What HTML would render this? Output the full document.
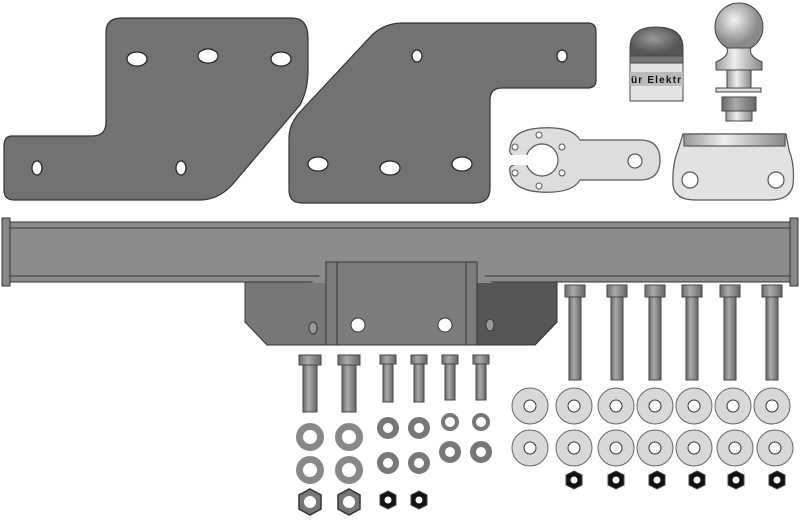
<!DOCTYPE html>
<html><head><style>html,body{margin:0;padding:0;background:#fff}svg{display:block}</style></head><body>
<svg width="800" height="522" viewBox="0 0 800 522" xmlns="http://www.w3.org/2000/svg">
<defs>
<linearGradient id="sh" x1="0" x2="1"><stop offset="0" stop-color="#6a6a6a"/><stop offset=".4" stop-color="#aaa"/><stop offset="1" stop-color="#666"/></linearGradient>
<linearGradient id="st" x1="0" x2="1"><stop offset="0" stop-color="#999"/><stop offset=".4" stop-color="#eee"/><stop offset="1" stop-color="#888"/></linearGradient>
<radialGradient id="ball" cx=".4" cy=".35"><stop offset="0" stop-color="#f4f4f4"/><stop offset="1" stop-color="#8a8a8a"/></radialGradient>
<radialGradient id="dome" cx=".45" cy=".4"><stop offset="0" stop-color="#999"/><stop offset="1" stop-color="#555"/></radialGradient>
</defs>
<g stroke="#333" stroke-width="1.2">
<path d="M12 136 H92 Q106 136 106 122 V32 Q106 18 122 18 H292 Q308 18 308 38 V70 Q308 90 300 105 L232 185 Q218 200 200 200 H14 Q4 200 4 190 V146 Q4 136 12 136 Z" fill="#727272"/>
<path d="M300 112 L372 35 Q385 23 402 23 H588 Q596 23 596 32 V80 Q596 88 588 88 H502 Q490 88 490 100 V188 Q490 203 475 203 H302 Q289 203 289 190 V138 Q289 124 300 112 Z" fill="#727272"/>
</g>
<g fill="#fff" stroke="#222" stroke-width="1.2">
<ellipse cx="137" cy="59" rx="10" ry="7"/><ellipse cx="208" cy="56" rx="10" ry="7"/><ellipse cx="281" cy="59" rx="10" ry="7"/>
<ellipse cx="37" cy="168" rx="5" ry="7"/><ellipse cx="181" cy="168" rx="5" ry="7"/>
<ellipse cx="417" cy="56" rx="5" ry="6"/><ellipse cx="562" cy="56" rx="5" ry="6"/>
<ellipse cx="318" cy="164" rx="10" ry="7"/><ellipse cx="390" cy="168" rx="10" ry="7"/><ellipse cx="462" cy="164" rx="10" ry="7"/>
</g>
<g stroke="#555" stroke-width="1.2">
<path d="M540 128 Q572 126 580 140 H640 Q660 140 660 160 Q660 180 640 180 H580 Q572 194 540 192 Q512 190 510 172 Q508 164 520 164 L530 164 Q525 160 525 160 L520 158 Q508 156 510 148 Q512 130 540 128 Z" fill="#ddd"/>
<circle cx="542" cy="160" r="16" fill="#fff"/>
<rect x="505" y="155" width="30" height="10" fill="#fff" stroke="none"/>
<circle cx="635" cy="161" r="7" fill="#fff"/>
<g fill="#fff" stroke-width="1"><circle cx="539" cy="135" r="3"/><circle cx="539" cy="186" r="3"/><circle cx="515" cy="147" r="3"/><circle cx="515" cy="173" r="3"/><circle cx="562" cy="147" r="3"/><circle cx="562" cy="173" r="3"/></g>
<path d="M683 134 H786 L789 150 Q795 165 793 185 Q790 200 770 200 H695 Q675 200 673 185 Q672 165 678 150 Z" fill="#e2e2e2"/>
<rect x="684" y="134" width="101" height="12" fill="url(#st)"/>
<circle cx="690" cy="180" r="8" fill="#fff"/><circle cx="776" cy="180" r="8" fill="#fff"/>
</g>
<g stroke="#444" stroke-width="1">
<path d="M630 56 V48 Q630 27 656 27 Q683 27 683 48 V56 Z" fill="url(#dome)"/>
<rect x="630" y="56" width="53" height="45" fill="#e4e4e4"/>
<rect x="630" y="56" width="53" height="7" fill="#777"/>
<rect x="630" y="72" width="53" height="14" fill="#bbb" stroke="none"/>
</g>
<text x="656" y="83" font-family="Liberation Sans, sans-serif" font-weight="bold" font-size="10" text-anchor="middle" fill="#111" textLength="50">ür Elektr</text>
<g stroke="#444" stroke-width="1">
<circle cx="739" cy="27" r="24" fill="url(#ball)"/>
<path d="M727 48 Q730 56 716 62 V70 H762 V62 Q748 56 751 48 Z" fill="url(#st)"/>
<rect x="727" y="70" width="24" height="18" fill="url(#st)"/>
<rect x="716" y="88" width="45" height="4" fill="#ddd"/>
<rect x="722" y="97" width="34" height="14" fill="url(#sh)"/>
<rect x="726" y="111" width="26" height="10" fill="url(#st)"/>
</g>
<g stroke="#333" stroke-width="1">
<path d="M245 282 H557 V322 L535 345 H267 L245 322 Z" fill="#777"/>
<path d="M477 282 H557 V322 L535 345 H477 Z" fill="#555"/>
<rect x="7" y="222" width="786" height="60" fill="#8c8c8c"/>
<line x1="7" y1="228" x2="793" y2="228"/>
<line x1="7" y1="276" x2="793" y2="276"/>
<path d="M308 283 Q318 283 322 270 Q326 262 334 262 H470 Q478 262 482 270 Q486 283 496 283 Z" fill="#8c8c8c" stroke="none"/>
<rect x="326" y="262" width="151" height="83" fill="#7c7c7c"/>
<line x1="337" y1="262" x2="337" y2="345"/><line x1="466" y1="262" x2="466" y2="345"/>
<rect x="2" y="218" width="8" height="68" fill="#888"/>
<rect x="790" y="218" width="8" height="68" fill="#888"/>
<circle cx="358" cy="325" r="7" fill="#fff"/><circle cx="445" cy="325" r="7" fill="#fff"/>
<ellipse cx="313" cy="328" rx="4" ry="6" fill="#999"/><ellipse cx="490" cy="325" rx="4" ry="6" fill="#999"/>
</g>
<g stroke="#444" stroke-width="1">
<g fill="url(#sh)">
<rect x="565" y="285" width="20" height="12"/><rect x="569" y="297" width="12" height="83"/>
<rect x="607" y="285" width="20" height="12"/><rect x="611" y="297" width="12" height="83"/>
<rect x="645" y="285" width="20" height="12"/><rect x="649" y="297" width="12" height="83"/>
<rect x="682" y="285" width="20" height="12"/><rect x="686" y="297" width="12" height="83"/>
<rect x="720" y="285" width="20" height="12"/><rect x="724" y="297" width="12" height="83"/>
<rect x="762" y="285" width="20" height="12"/><rect x="766" y="297" width="12" height="83"/>
</g>
<g fill="url(#sh)">
<rect x="299" y="355" width="22" height="10"/><rect x="303" y="365" width="14" height="47"/>
<rect x="338" y="355" width="22" height="10"/><rect x="342" y="365" width="14" height="47"/>
<rect x="380" y="355" width="16" height="9"/><rect x="383" y="364" width="10" height="38"/>
<rect x="411" y="355" width="16" height="9"/><rect x="414" y="364" width="10" height="38"/>
<rect x="442" y="355" width="16" height="9"/><rect x="445" y="364" width="10" height="36"/>
<rect x="473" y="355" width="16" height="9"/><rect x="476" y="364" width="10" height="36"/>
</g>
<g fill="#d8d8d8" stroke="#666">
<circle cx="530" cy="406" r="18"/><circle cx="574" cy="406" r="18"/><circle cx="616" cy="406" r="18"/><circle cx="655" cy="406" r="18"/><circle cx="694" cy="406" r="18"/><circle cx="733" cy="406" r="18"/><circle cx="772" cy="406" r="18"/>
<circle cx="530" cy="448" r="18"/><circle cx="574" cy="448" r="18"/><circle cx="616" cy="448" r="18"/><circle cx="655" cy="448" r="18"/><circle cx="694" cy="448" r="18"/><circle cx="735" cy="448" r="18"/><circle cx="775" cy="448" r="18"/>
</g>
<g fill="#fff" stroke="#333">
<circle cx="530" cy="406" r="6"/><circle cx="574" cy="406" r="6"/><circle cx="616" cy="406" r="6"/><circle cx="655" cy="406" r="6"/><circle cx="694" cy="406" r="6"/><circle cx="733" cy="406" r="6"/><circle cx="772" cy="406" r="6"/>
<circle cx="530" cy="448" r="6"/><circle cx="574" cy="448" r="6"/><circle cx="616" cy="448" r="6"/><circle cx="655" cy="448" r="6"/><circle cx="694" cy="448" r="6"/><circle cx="735" cy="448" r="6"/><circle cx="775" cy="448" r="6"/>
</g>
<g fill="none" stroke="#888">
<circle cx="310" cy="437" r="10.5" stroke-width="7"/><circle cx="349" cy="437" r="10.5" stroke-width="7"/>
<circle cx="310" cy="470" r="10.5" stroke-width="7"/><circle cx="349" cy="470" r="10.5" stroke-width="7"/>
<circle cx="388" cy="428" r="8" stroke-width="6" stroke="#777"/><circle cx="419" cy="428" r="8" stroke-width="6" stroke="#777"/>
<circle cx="388" cy="463" r="8" stroke-width="6" stroke="#777"/><circle cx="419" cy="463" r="8" stroke-width="6" stroke="#777"/>
<circle cx="450" cy="422" r="7" stroke-width="4" stroke="#777"/><circle cx="481" cy="422" r="7" stroke-width="4" stroke="#777"/>
<circle cx="450" cy="452" r="8" stroke-width="6" stroke="#777"/><circle cx="481" cy="452" r="8" stroke-width="6" stroke="#777"/>
</g>
<g fill="#777" stroke="#333" stroke-width="1.5">
<polygon points="310,489 321,495 321,509 310,515 299,509 299,495"/><polygon points="349,489 360,495 360,509 349,515 338,509 338,495"/>
</g>
<g fill="#111">
<polygon points="388,491 396,495 396,505 388,509 380,505 380,495"/><polygon points="419,491 427,495 427,505 419,509 411,505 411,495"/>
<polygon points="574,471 582,475 582,485 574,489 566,485 566,475"/><polygon points="616,471 624,475 624,485 616,489 608,485 608,475"/>
<polygon points="657,471 665,475 665,485 657,489 649,485 649,475"/><polygon points="697,471 705,475 705,485 697,489 689,485 689,475"/>
<polygon points="736,471 744,475 744,485 736,489 728,485 728,475"/><polygon points="777,471 785,475 785,485 777,489 769,485 769,475"/>
</g>
<g fill="#fff" stroke="none">
<circle cx="310" cy="502" r="6"/><circle cx="349" cy="502" r="6"/>
<circle cx="388" cy="500" r="3.5"/><circle cx="419" cy="500" r="3.5"/>
<circle cx="574" cy="480" r="3.5"/><circle cx="616" cy="480" r="3.5"/><circle cx="657" cy="480" r="3.5"/><circle cx="697" cy="480" r="3.5"/><circle cx="736" cy="480" r="3.5"/><circle cx="777" cy="480" r="3.5"/>
</g>
</g>
</svg>
</body></html>
